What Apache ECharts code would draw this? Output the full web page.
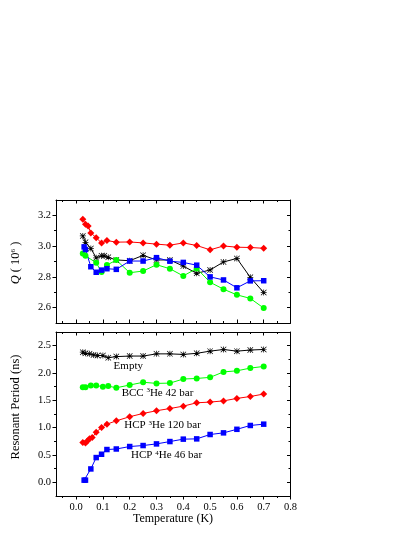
<!DOCTYPE html>
<html>
<head>
<meta charset="utf-8">
<script src="https://cdn.jsdelivr.net/npm/echarts@6/dist/echarts.min.js"></script>
<style>html,body{margin:0;padding:0;background:#fff;}#c{width:415px;height:537px;}</style>
</head>
<body>
<div id="c"></div>
<script>
// ---- tick labels ----
const xTicks = [0.0, 0.1, 0.2, 0.3, 0.4, 0.5, 0.6, 0.7, 0.8];
const xMinorTicks = [-0.05, 0.05, 0.15, 0.25, 0.35, 0.45, 0.55, 0.65, 0.75];
const qTicks = [2.6, 2.8, 3.0, 3.2];
const qMinorTicks = [2.7, 2.9, 3.1];
const pTicks = [0.0, 0.5, 1.0, 1.5, 2.0, 2.5];
const pMinorTicks = [0.25, 0.75, 1.25, 1.75, 2.25];

// ---- top panel: Q (10^6) ----
const qEmptyX = [0.025, 0.035, 0.055, 0.075, 0.095, 0.105, 0.12, 0.15, 0.2, 0.25, 0.3, 0.35, 0.4, 0.45, 0.5, 0.55, 0.6, 0.65, 0.7];
const qEmptyY = [3.066, 3.025, 2.985, 2.924, 2.937, 2.937, 2.927, 2.91, 2.905, 2.94, 2.91, 2.91, 2.87, 2.823, 2.845, 2.897, 2.92, 2.797, 2.698];
const qBccX = [0.025, 0.035, 0.075, 0.095, 0.115, 0.15, 0.2, 0.25, 0.3, 0.35, 0.4, 0.45, 0.5, 0.55, 0.6, 0.65, 0.7];
const qBccY = [2.952, 2.937, 2.892, 2.832, 2.877, 2.909, 2.827, 2.838, 2.879, 2.853, 2.806, 2.855, 2.765, 2.72, 2.683, 2.66, 2.597];
const qHcp3X = [0.025, 0.035, 0.045, 0.055, 0.075, 0.095, 0.115, 0.15, 0.2, 0.25, 0.3, 0.35, 0.4, 0.45, 0.5, 0.55, 0.6, 0.65, 0.7];
const qHcp3Y = [3.175, 3.142, 3.131, 3.086, 3.055, 3.02, 3.036, 3.026, 3.027, 3.021, 3.013, 3.006, 3.021, 3.004, 2.976, 3.001, 2.993, 2.991, 2.986];
const qHcp4X = [0.03, 0.035, 0.055, 0.075, 0.095, 0.115, 0.15, 0.2, 0.25, 0.3, 0.35, 0.4, 0.45, 0.5, 0.55, 0.6, 0.65, 0.7];
const qHcp4Y = [2.995, 2.978, 2.866, 2.83, 2.844, 2.853, 2.849, 2.903, 2.903, 2.925, 2.902, 2.894, 2.876, 2.80, 2.78, 2.729, 2.774, 2.775];

// ---- bottom panel: resonant period (ns) ----
const pEmptyX = [0.025, 0.035, 0.05, 0.065, 0.08, 0.1, 0.12, 0.15, 0.2, 0.25, 0.3, 0.35, 0.4, 0.45, 0.5, 0.55, 0.6, 0.65, 0.7];
const pEmptyY = [2.38, 2.36, 2.35, 2.33, 2.32, 2.32, 2.28, 2.30, 2.31, 2.31, 2.35, 2.35, 2.34, 2.36, 2.40, 2.43, 2.40, 2.42, 2.43];
const pBccX = [0.025, 0.035, 0.055, 0.075, 0.1, 0.12, 0.15, 0.2, 0.25, 0.3, 0.35, 0.4, 0.45, 0.5, 0.55, 0.6, 0.65, 0.7];
const pBccY = [1.74, 1.74, 1.77, 1.77, 1.75, 1.76, 1.73, 1.78, 1.83, 1.81, 1.815, 1.89, 1.90, 1.92, 2.02, 2.04, 2.09, 2.12];
const pHcp3X = [0.025, 0.035, 0.042, 0.05, 0.06, 0.075, 0.095, 0.115, 0.15, 0.2, 0.25, 0.3, 0.35, 0.4, 0.45, 0.5, 0.55, 0.6, 0.65, 0.7];
const pHcp3Y = [0.728, 0.72, 0.758, 0.795, 0.82, 0.917, 1.003, 1.064, 1.125, 1.20, 1.26, 1.31, 1.35, 1.394, 1.455, 1.468, 1.49, 1.535, 1.57, 1.615];
const pHcp4X = [0.03, 0.035, 0.055, 0.075, 0.095, 0.115, 0.15, 0.2, 0.25, 0.3, 0.35, 0.4, 0.45, 0.5, 0.55, 0.6, 0.65, 0.7];
const pHcp4Y = [0.04, 0.04, 0.245, 0.453, 0.514, 0.60, 0.61, 0.655, 0.673, 0.703, 0.746, 0.79, 0.795, 0.875, 0.905, 0.97, 1.04, 1.064];

// ---- annotation labels (bottom panel) ----
const annoTexts = ['Empty', 'BCC {sup|3}He 42 bar', 'HCP {sup|3}He 120 bar', 'HCP {sup|4}He 46 bar'];
const annoX = [0.14, 0.17, 0.18, 0.205];
const annoY = [2.13, 1.64, 1.04, 0.495];

const FONT = '"Liberation Serif", "Times New Roman", serif';
const pairs = (xs, ys) => xs.map((x, i) => [x, ys[i]]);
const ASTER = 'path://M0 44L100 44L100 56L0 56ZM44 0L56 0L56 100L44 100ZM8 0L100 92L92 100L0 8ZM92 0L100 8L8 100L0 92Z';

const chart = echarts.init(document.getElementById('c'), null, {renderer: 'canvas'});

const X_MIN = -0.075, X_MAX = 0.8;
const yRanges = [[2.5, 3.3], [-0.25, 2.75]];
const yMaj = [qTicks, pTicks];
const yMin = [qMinorTicks, pMinorTicks];

const lineStyle = {color: '#000', width: 1};
const xAxes = [], yAxes = [];
for (let g = 0; g < 2; g++) {
  xAxes.push({type: 'value', gridIndex: g, position: 'bottom', min: X_MIN, max: X_MAX,
    axisLine: {show: true, onZero: false, lineStyle},
    axisTick: {show: true, customValues: xTicks, inside: g === 0, length: 3.5, lineStyle},
    axisLabel: {show: g === 1, customValues: xTicks, formatter: v => v.toFixed(1), color: '#000', fontFamily: FONT, fontSize: 10.5, margin: 6},
    splitLine: {show: false}});
  xAxes.push({type: 'value', gridIndex: g, position: 'bottom', min: X_MIN, max: X_MAX,
    axisLine: {show: false, onZero: false},
    axisTick: {show: true, customValues: xMinorTicks, inside: g === 0, length: 2, lineStyle},
    axisLabel: {show: false}, splitLine: {show: false}});
  xAxes.push({type: 'value', gridIndex: g, position: 'top', min: X_MIN, max: X_MAX,
    axisLine: {show: true, onZero: false, lineStyle},
    axisTick: {show: true, customValues: xTicks, inside: true, length: 3.5, lineStyle},
    axisLabel: {show: false}, splitLine: {show: false}});
  xAxes.push({type: 'value', gridIndex: g, position: 'top', min: X_MIN, max: X_MAX,
    axisLine: {show: false, onZero: false},
    axisTick: {show: true, customValues: xMinorTicks, inside: true, length: 2, lineStyle},
    axisLabel: {show: false}, splitLine: {show: false}});

  const [ymin, ymax] = yRanges[g];
  yAxes.push({type: 'value', gridIndex: g, position: 'left', min: ymin, max: ymax,
    axisLine: {show: true, onZero: false, lineStyle},
    axisTick: {show: true, customValues: yMaj[g], inside: false, length: 3.5, lineStyle},
    axisLabel: {show: true, customValues: yMaj[g], formatter: v => v.toFixed(1), color: '#000', fontFamily: FONT, fontSize: 10.5, margin: 5},
    splitLine: {show: false}});
  yAxes.push({type: 'value', gridIndex: g, position: 'left', min: ymin, max: ymax,
    axisLine: {show: false, onZero: false},
    axisTick: {show: true, customValues: yMin[g], inside: false, length: 2, lineStyle},
    axisLabel: {show: false}, splitLine: {show: false}});
  yAxes.push({type: 'value', gridIndex: g, position: 'right', min: ymin, max: ymax,
    axisLine: {show: true, onZero: false, lineStyle},
    axisTick: {show: true, customValues: yMaj[g], inside: true, length: 3.5, lineStyle},
    axisLabel: {show: false}, splitLine: {show: false}});
  yAxes.push({type: 'value', gridIndex: g, position: 'right', min: ymin, max: ymax,
    axisLine: {show: false, onZero: false},
    axisTick: {show: true, customValues: yMin[g], inside: true, length: 2, lineStyle},
    axisLabel: {show: false}, splitLine: {show: false}});
}

function mkSeries(g, name, xs, ys, color, symbol, size) {
  return {
    type: 'line', name, xAxisIndex: g * 4, yAxisIndex: g * 4,
    data: pairs(xs, ys), symbol, symbolSize: size, showAllSymbol: true,
    lineStyle: {color, width: 1}, itemStyle: {color, borderWidth: 0},
    animation: false, silent: true
  };
}

const series = [
  mkSeries(0, 'Empty', qEmptyX, qEmptyY, '#000000', ASTER, 6),
  mkSeries(0, 'BCC 3He 42 bar', qBccX, qBccY, '#00ff00', 'circle', 6),
  mkSeries(0, 'HCP 3He 120 bar', qHcp3X, qHcp3Y, '#ff0000', 'diamond', 7),
  mkSeries(0, 'HCP 4He 46 bar', qHcp4X, qHcp4Y, '#0000ff', 'rect', 5.5),
  mkSeries(1, 'Empty', pEmptyX, pEmptyY, '#000000', ASTER, 6),
  mkSeries(1, 'BCC 3He 42 bar', pBccX, pBccY, '#00ff00', 'circle', 6),
  mkSeries(1, 'HCP 3He 120 bar', pHcp3X, pHcp3Y, '#ff0000', 'diamond', 7),
  mkSeries(1, 'HCP 4He 46 bar', pHcp4X, pHcp4Y, '#0000ff', 'rect', 5.5)
];

chart.setOption({
  animation: false,
  backgroundColor: '#fff',
  grid: [
    {left: 56, top: 200, width: 234.5, height: 123, containLabel: false},
    {left: 56, top: 332, width: 234.5, height: 164, containLabel: false}
  ],
  xAxis: xAxes,
  yAxis: yAxes,
  series
});

const supRich = {sup: {fontSize: 7, fontFamily: FONT, fill: '#000', color: '#000', verticalAlign: 'top', padding: [0, 0, 5, 0]},
                 i: {fontStyle: 'italic', fontSize: 12.5, fontFamily: FONT}};

const graphics = [];
annoTexts.forEach((t, k) => {
  const p = chart.convertToPixel({xAxisIndex: 4, yAxisIndex: 4}, [annoX[k], annoY[k]]);
  graphics.push({type: 'text', x: p[0], y: p[1], silent: true,
    style: {text: t, fill: '#000', fontSize: 11, fontFamily: FONT, align: 'left', textAlign: 'left',
            verticalAlign: 'middle', textVerticalAlign: 'middle', rich: supRich}});
});
graphics.push({type: 'text', x: 16, y: 263, rotation: Math.PI / 2, silent: true,
  style: {text: '{i|Q} ( 10{sup|6} )', fill: '#000', fontSize: 12.5, fontFamily: FONT, align: 'center', textAlign: 'center',
          verticalAlign: 'middle', textVerticalAlign: 'middle', rich: supRich}});
graphics.push({type: 'text', x: 16, y: 407, rotation: Math.PI / 2, silent: true,
  style: {text: 'Resonant Period (ns)', fill: '#000', fontSize: 12.5, fontFamily: FONT, align: 'center', textAlign: 'center',
          verticalAlign: 'middle', textVerticalAlign: 'middle'}});
graphics.push({type: 'text', x: 173, y: 519, silent: true,
  style: {text: 'Temperature (K)', fill: '#000', fontSize: 12, fontFamily: FONT, align: 'center', textAlign: 'center',
          verticalAlign: 'middle', textVerticalAlign: 'middle'}});

chart.setOption({graphic: graphics});
</script>
</body>
</html>
